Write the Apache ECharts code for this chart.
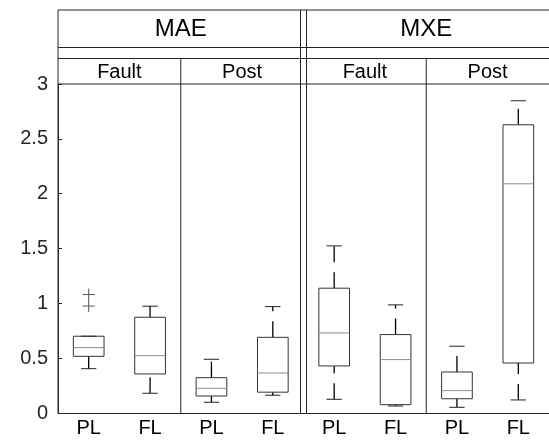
<!DOCTYPE html>
<html>
<head>
<meta charset="utf-8">
<script src="https://cdn.jsdelivr.net/npm/echarts@6/dist/echarts.min.js"></script>
<style>
html,body{margin:0;padding:0;background:#fff;}
#chart{width:549px;height:441px;}
</style>
</head>
<body>
<div id="chart"></div>
<script>
// ---- data ----
const categories = ['MAE-Fault-PL','MAE-Fault-FL','MAE-Post-PL','MAE-Post-FL','MXE-Fault-PL','MXE-Fault-FL','MXE-Post-PL','MXE-Post-FL'];
const tickLabels = ['PL','FL','PL','FL','PL','FL','PL','FL'];
const metrics = ['MAE','MXE'];
const phases = ['Fault','Post','Fault','Post'];
const lowerWhisker = [0.404, 0.18, 0.098, 0.162, 0.125, 0.064, 0.052, 0.119];
const q1 =           [0.517, 0.356, 0.155, 0.19, 0.429, 0.076, 0.13, 0.456];
const medians =      [0.596, 0.523, 0.225, 0.365, 0.73, 0.487, 0.204, 2.09];
const q3 =           [0.70, 0.873, 0.322, 0.69, 1.138, 0.715, 0.374, 2.628];
const upperWhisker = [0.70, 0.974, 0.49, 0.97, 1.524, 0.986, 0.609, 2.847];
const outlierCategory = [0, 0];
const outlierValues = [1.08, 0.975];
const yMin = 0, yMax = 3, yInterval = 0.5;

// ---- styles ----
const FONT = '"Liberation Sans", Arial, Helvetica, sans-serif';
const INK = '#262626';

const boxData = categories.map((c, i) => [i, lowerWhisker[i], q1[i], medians[i], q3[i], upperWhisker[i]]);
const outlierData = outlierValues.map((v, k) => [outlierCategory[k], v]);

function renderBox(params, api) {
  const i = api.value(0);
  const band = api.size([1, 0])[0];
  const cx = api.coord([i, 0])[0];
  const yLw = api.coord([i, api.value(1)])[1];
  const yQ1 = api.coord([i, api.value(2)])[1];
  const yMed = api.coord([i, api.value(3)])[1];
  const yQ3 = api.coord([i, api.value(4)])[1];
  const yUw = api.coord([i, api.value(5)])[1];
  const bw = band * 0.5, cw = band * 0.25;
  const dash = {stroke: '#000', lineWidth: 1.3, lineDash: [16, 10]};
  return {
    type: 'group',
    children: [
      {type: 'line', shape: {x1: cx, y1: yLw, x2: cx, y2: yQ1}, style: dash},
      {type: 'line', shape: {x1: cx, y1: yQ3, x2: cx, y2: yUw}, style: dash},
      {type: 'line', shape: {x1: cx - cw / 2, y1: yLw, x2: cx + cw / 2, y2: yLw}, style: {stroke: '#222', lineWidth: 1}},
      {type: 'line', shape: {x1: cx - cw / 2, y1: yUw, x2: cx + cw / 2, y2: yUw}, style: {stroke: '#222', lineWidth: 1}},
      {type: 'rect', shape: {x: cx - bw / 2, y: yQ3, width: bw, height: yQ1 - yQ3}, style: {fill: null, stroke: '#333', lineWidth: 1}},
      {type: 'line', shape: {x1: cx - bw / 2, y1: yMed, x2: cx + bw / 2, y2: yMed}, style: {stroke: '#8c8c8c', lineWidth: 1}}
    ]
  };
}

function renderOutlier(params, api) {
  const p = api.coord([api.value(0), api.value(1)]);
  const s = 6;
  const st = {stroke: '#555', lineWidth: 1};
  return {
    type: 'group',
    children: [
      {type: 'line', shape: {x1: p[0] - s, y1: p[1], x2: p[0] + s, y2: p[1]}, style: st},
      {type: 'line', shape: {x1: p[0], y1: p[1] - s, x2: p[0], y2: p[1] + s}, style: st}
    ]
  };
}

// header / frame (layout only)
const ROW_PHASE = 25.5, ROW_GAP = 11, ROW_METRIC = 37.5;
function renderFrame(params, api) {
  const band = api.size([1, 0])[0];
  const n = categories.length;
  const left = api.coord([0, 0])[0] - band / 2;
  const right = api.coord([n - 1, 0])[0] + band / 2;
  const yBottom = api.coord([0, yMin])[1];
  const yTop = api.coord([0, yMax])[1];
  const yPhaseTop = yTop - ROW_PHASE;
  const yGapTop = yPhaseTop - ROW_GAP;
  const yHeadTop = yGapTop - ROW_METRIC;
  const ln = (x1, y1, x2, y2) => ({type: 'line', shape: {x1, y1, x2, y2}, style: {stroke: INK, lineWidth: 1}});
  const children = [];
  children.push(ln(left, yHeadTop, right, yHeadTop));
  children.push(ln(left, yGapTop, right, yGapTop));
  children.push(ln(left, yPhaseTop, right, yPhaseTop));
  children.push(ln(left, yTop, right, yTop));
  children.push(ln(left, yHeadTop, left, yBottom));
  const perMetric = n / metrics.length;
  const perPhase = n / phases.length;
  for (let m = 1; m < metrics.length; m++) {
    const xb = api.coord([m * perMetric - 1, 0])[0] + band / 2;
    children.push(ln(xb - 3, yHeadTop, xb - 3, yBottom));
    children.push(ln(xb + 3, yHeadTop, xb + 3, yBottom));
  }
  for (let p = 1; p < phases.length; p++) {
    if ((p * perPhase) % perMetric === 0) continue;
    const xb = api.coord([p * perPhase - 1, 0])[0] + band / 2;
    children.push(ln(xb, yPhaseTop, xb, yBottom));
  }
  metrics.forEach((name, m) => {
    const x0 = left + m * perMetric * band, x1 = x0 + perMetric * band;
    children.push({type: 'text', style: {text: name, x: (x0 + x1) / 2, y: (yHeadTop + yGapTop) / 2 + 1, align: 'center', verticalAlign: 'middle', fill: '#000', font: '24px ' + FONT}});
  });
  phases.forEach((name, p) => {
    const x0 = left + p * perPhase * band, x1 = x0 + perPhase * band;
    children.push({type: 'text', style: {text: name, x: (x0 + x1) / 2, y: (yPhaseTop + yTop) / 2 + 1, align: 'center', verticalAlign: 'middle', fill: '#000', font: '20px ' + FONT}});
  });
  return {type: 'group', children};
}

const chart = echarts.init(document.getElementById('chart'), null, {renderer: 'canvas'});
chart.setOption({
  animation: false,
  backgroundColor: '#fff',
  grid: {left: 58, top: 84, width: 496, height: 329, containLabel: false},
  xAxis: {
    type: 'category',
    data: categories,
    boundaryGap: true,
    axisLine: {lineStyle: {color: INK, width: 1}},
    axisTick: {inside: true, length: 4, alignWithLabel: true, lineStyle: {color: INK}},
    axisLabel: {formatter: (v, i) => tickLabels[i], color: '#000', fontSize: 20, fontFamily: FONT, margin: 5},
    splitLine: {show: false}
  },
  yAxis: {
    type: 'value',
    min: yMin, max: yMax, interval: yInterval,
    axisLine: {show: true, lineStyle: {color: INK, width: 1}},
    axisTick: {show: true, inside: true, length: 4, lineStyle: {color: INK}},
    axisLabel: {color: '#262626', fontSize: 20, fontFamily: FONT, margin: 10},
    splitLine: {show: false}
  },
  series: [
    {type: 'custom', name: 'frame', renderItem: renderFrame, data: [[0, 0]], clip: false, silent: true, z: 1},
    {type: 'custom', name: 'boxes', renderItem: renderBox, data: boxData, encode: {x: 0, y: [1, 2, 3, 4, 5]}, z: 2},
    {type: 'custom', name: 'outliers', renderItem: renderOutlier, data: outlierData, encode: {x: 0, y: 1}, z: 3}
  ]
});
</script>
</body>
</html>
